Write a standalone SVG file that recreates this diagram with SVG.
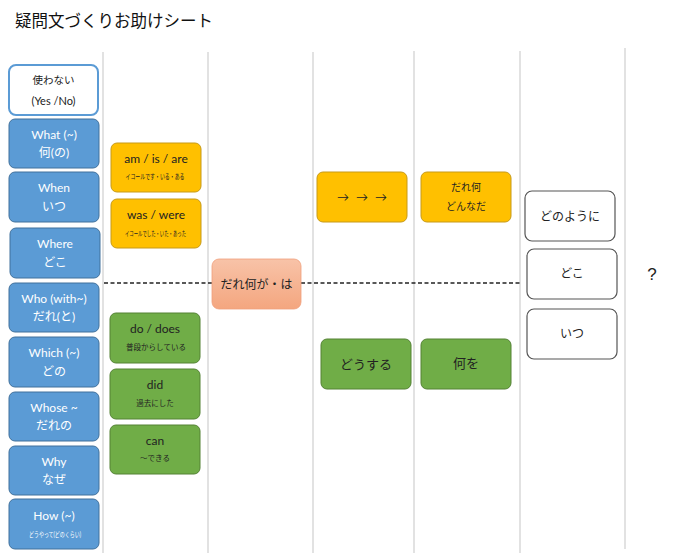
<svg xmlns="http://www.w3.org/2000/svg" width="680" height="559" viewBox="0 0 680 559">
<defs>
<linearGradient id="salmon" x1="0" y1="0" x2="0" y2="1">
<stop offset="0" stop-color="#f8c3a8"/>
<stop offset="1" stop-color="#f4a67f"/>
</linearGradient>
<style>
text{font-family:"Lato","Noto Sans CJK JP",sans-serif;text-anchor:middle;dominant-baseline:central}
.grid{stroke:#d9d9d9;stroke-width:1.5}
.blue rect{fill:#5b9bd5;stroke:#41719c;stroke-width:1}
.blue text{fill:#ffffff;font-size:12px}
.yel rect{fill:#ffc000;stroke:#c79a18;stroke-width:1}
.grn rect{fill:#70ad47;stroke:#548235;stroke-width:1}
.dark text{fill:#222222}
.wht rect{fill:#ffffff;stroke:#555555;stroke-width:1.2}
g text.big{font-size:12px}
g text.sm{font-size:7px}
g text.sm2{font-size:7.5px}
</style>
</defs>
<rect width="680" height="559" fill="#ffffff"/>
<text x="15" y="21" style="text-anchor:start;font-size:16.5px;fill:#111">疑問文づくりお助けシート</text>
<g id="grid">
<line class="grid" x1="103" y1="52" x2="103" y2="553"/>
<line class="grid" x1="208" y1="52" x2="208" y2="553"/>
<line class="grid" x1="313" y1="52" x2="313" y2="553"/>
<line class="grid" x1="414" y1="51" x2="414" y2="553"/>
<line class="grid" x1="520" y1="51" x2="520" y2="553"/>
<line class="grid" x1="625" y1="48" x2="625" y2="549"/>
</g>
<g id="connectors">
<line x1="104" y1="283" x2="212" y2="283" stroke="#222" stroke-width="1.4" stroke-dasharray="4,2.5"/>
<line x1="301" y1="283" x2="521" y2="283" stroke="#222" stroke-width="1.4" stroke-dasharray="4,2.5"/>
</g>
<g id="n-tsukawanai">
<rect x="9" y="65" width="89" height="50" rx="7" fill="#fff" stroke="#5b9bd5" stroke-width="2"/>
<text x="53.5" y="80" style="font-size:10.5px;fill:#222">使わない</text>
<text x="53.5" y="100" style="font-size:11px;fill:#222">(Yes /No)</text>
</g>
<g id="n-what" class="blue">
<rect x="9" y="119" width="90" height="49" rx="6"/>
<text x="54" y="134">What (~)</text>
<text x="54" y="152">何(の)</text>
</g>
<g id="n-when" class="blue">
<rect x="9" y="172" width="90" height="50" rx="6"/>
<text x="54" y="187">When</text>
<text x="54" y="206">いつ</text>
</g>
<g id="n-where" class="blue">
<rect x="10" y="228" width="90" height="50" rx="6"/>
<text x="55" y="243">Where</text>
<text x="55" y="262">どこ</text>
</g>
<g id="n-who" class="blue">
<rect x="9" y="283" width="90" height="49" rx="6"/>
<text x="54" y="298">Who (with~)</text>
<text x="54" y="316">だれ(と)</text>
</g>
<g id="n-which" class="blue">
<rect x="9" y="337" width="90" height="50" rx="6"/>
<text x="54" y="352">Which (~)</text>
<text x="54" y="371">どの</text>
</g>
<g id="n-whose" class="blue">
<rect x="9" y="392" width="90" height="49" rx="6"/>
<text x="54" y="407">Whose ~</text>
<text x="54" y="425">だれの</text>
</g>
<g id="n-why" class="blue">
<rect x="9" y="446" width="90" height="49" rx="6"/>
<text x="54" y="461">Why</text>
<text x="54" y="479">なぜ</text>
</g>
<g id="n-how" class="blue">
<rect x="9" y="499" width="90" height="50" rx="6"/>
<text x="54" y="515">How (~)</text>
<text x="55" y="534" class="sm" textLength="52" lengthAdjust="spacingAndGlyphs">どうやって(どのくらい)</text>
</g>
<g id="n-amisare" class="yel dark">
<rect x="111" y="143" width="90" height="49" rx="6"/>
<text x="156" y="158" class="big">am / is / are</text>
<text x="155" y="176" class="sm" textLength="59" lengthAdjust="spacingAndGlyphs">イコールです・いる・ある</text>
</g>
<g id="n-waswere" class="yel dark">
<rect x="111" y="199" width="90" height="49" rx="6"/>
<text x="156" y="214" class="big">was / were</text>
<text x="155.5" y="233" class="sm" textLength="61" lengthAdjust="spacingAndGlyphs">イコールでした・いた・あった</text>
</g>
<g id="n-dodoes" class="grn dark">
<rect x="110" y="313" width="90" height="50" rx="6"/>
<text x="155" y="328" class="big">do / does</text>
<text x="156" y="347" class="sm2">普段からしている</text>
</g>
<g id="n-did" class="grn dark">
<rect x="110" y="369" width="90" height="50" rx="6"/>
<text x="155" y="384" class="big">did</text>
<text x="155" y="403" class="sm2">過去にした</text>
</g>
<g id="n-can" class="grn dark">
<rect x="110" y="425" width="90" height="49" rx="6"/>
<text x="155" y="440" class="big">can</text>
<text x="155" y="458" class="sm2">～できる</text>
</g>
<g id="n-subject">
<rect x="212" y="259" width="89" height="50" rx="7" fill="url(#salmon)" stroke="#f0a07c" stroke-width="0.8"/>
<text x="256.5" y="284" style="font-size:12px;fill:#222">だれ何が・は</text>
</g>
<g id="n-arrows" class="yel dark">
<rect x="317" y="172" width="90" height="50" rx="6"/>
<text x="362" y="196" style="font-size:12px" word-spacing="4">→ → →</text>
</g>
<g id="n-daredonna" class="yel dark">
<rect x="421" y="172" width="90" height="50" rx="6"/>
<text x="466" y="187" style="font-size:10px">だれ何</text>
<text x="466" y="206" style="font-size:10px">どんなだ</text>
</g>
<g id="n-dousuru" class="grn dark">
<rect x="321" y="339" width="90" height="50" rx="6"/>
<text x="366" y="364" style="font-size:13px">どうする</text>
</g>
<g id="n-naniwo" class="grn dark">
<rect x="421" y="339" width="90" height="50" rx="6"/>
<text x="466" y="363" style="font-size:13px">何を</text>
</g>
<g id="n-donoyouni" class="wht dark">
<rect x="525" y="191" width="90" height="50" rx="7"/>
<text x="570" y="216" style="font-size:12px">どのように</text>
</g>
<g id="n-doko" class="wht dark">
<rect x="527" y="249" width="90" height="50" rx="7"/>
<text x="572" y="273" style="font-size:12px">どこ</text>
</g>
<g id="n-itsu" class="wht dark">
<rect x="527" y="309" width="90" height="50" rx="7"/>
<text x="572" y="333" style="font-size:12px">いつ</text>
</g>
<g id="n-q">
<text x="652" y="274" style="font-size:17px;fill:#222;font-family:'Liberation Sans',sans-serif">?</text>
</g>
</svg>
